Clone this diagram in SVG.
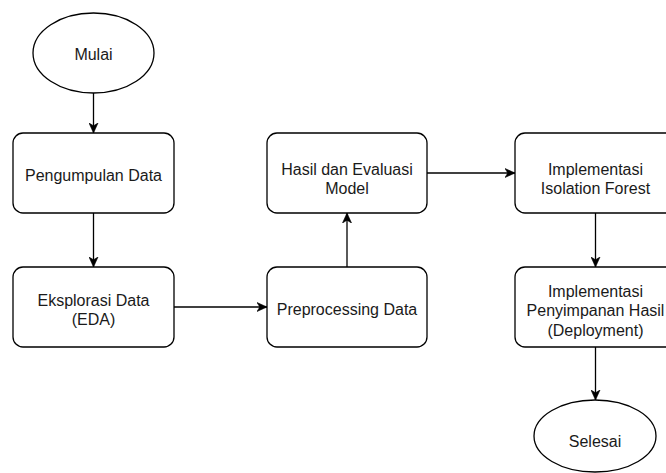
<svg xmlns="http://www.w3.org/2000/svg" width="666" height="473" viewBox="0 0 666 473">
  <style>
    .node { fill: #ffffff; stroke: #000000; stroke-width: 1.3; }
    .lbl { font-family: "Liberation Sans", Arial, Helvetica, sans-serif; font-size: 16px; fill: #1a1a1a; text-anchor: middle; }
    .edge { fill: none; stroke: #000000; stroke-width: 1.3; marker-end: url(#arrow); }
  </style>
  <defs>
    <marker id="arrow" markerUnits="userSpaceOnUse" markerWidth="12" markerHeight="10" refX="10" refY="5" orient="auto">
      <path d="M0,0.5 L10,5 L0,9.5 L2.8,5 Z" fill="#000000" stroke="#000000" stroke-width="0.6"/>
    </marker>
  </defs>
  <rect width="666" height="473" fill="#ffffff"/>

  <g id="connectors">
    <path class="edge" d="M93.5,93 L93.5,133"/>
    <path class="edge" d="M93.5,213 L93.5,267"/>
    <path class="edge" d="M174,307 L267,307"/>
    <path class="edge" d="M347,267 L347,213"/>
    <path class="edge" d="M427,173 L515,173"/>
    <path class="edge" d="M595.5,213 L595.5,267"/>
    <path class="edge" d="M595.5,347 L595.5,400"/>
  </g>

  <g id="mulai">
    <ellipse class="node" cx="93.5" cy="53" rx="60.5" ry="40"/>
    <text class="lbl" x="93.5" y="60">Mulai</text>
  </g>

  <g id="pengumpulan">
    <rect class="node" x="13" y="133" width="161" height="80" rx="10" ry="10"/>
    <text class="lbl" x="93.5" y="180.5">Pengumpulan Data</text>
  </g>

  <g id="eksplorasi">
    <rect class="node" x="13" y="267" width="161" height="80" rx="10" ry="10"/>
    <text class="lbl" x="93.5" y="305.5">Eksplorasi Data</text>
    <text class="lbl" x="93.5" y="324.5">(EDA)</text>
  </g>

  <g id="preprocessing">
    <rect class="node" x="267" y="267" width="160" height="80" rx="10" ry="10"/>
    <text class="lbl" x="347" y="314.5">Preprocessing Data</text>
  </g>

  <g id="hasil">
    <rect class="node" x="267" y="133" width="160" height="80" rx="10" ry="10"/>
    <text class="lbl" x="347" y="174.5">Hasil dan Evaluasi</text>
    <text class="lbl" x="347" y="193.5">Model</text>
  </g>

  <g id="isolation">
    <rect class="node" x="515" y="133" width="161" height="80" rx="10" ry="10"/>
    <text class="lbl" x="595.5" y="174.5">Implementasi</text>
    <text class="lbl" x="595.5" y="193.5">Isolation Forest</text>
  </g>

  <g id="penyimpanan">
    <rect class="node" x="515" y="267" width="161" height="80" rx="10" ry="10"/>
    <text class="lbl" x="595.5" y="296.5">Implementasi</text>
    <text class="lbl" x="595.5" y="316">Penyimpanan Hasil</text>
    <text class="lbl" x="595.5" y="335.5">(Deployment)</text>
  </g>

  <g id="selesai">
    <ellipse class="node" cx="595" cy="436" rx="61" ry="36"/>
    <text class="lbl" x="595" y="447">Selesai</text>
  </g>
</svg>
